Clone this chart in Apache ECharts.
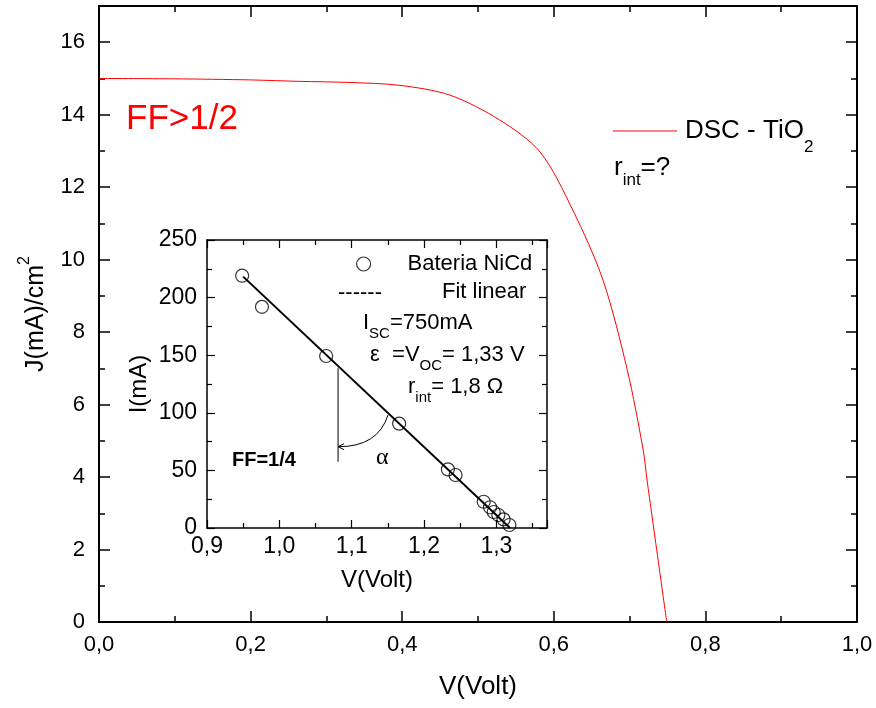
<!DOCTYPE html>
<html>
<head>
<meta charset="utf-8">
<script src="https://cdn.jsdelivr.net/npm/echarts@6/dist/echarts.min.js"></script>
<style>
  html, body { margin: 0; padding: 0; background: #fff; }
  #main { width: 876px; height: 708px; }
</style>
</head>
<body>
<div id="main"></div>
<script>
// DSC - TiO2 curve (main plot)
var dscV = [0, 0.1, 0.2, 0.265, 0.33, 0.397, 0.463, 0.529, 0.582, 0.625, 0.665, 0.697, 0.718, 0.723, 0.749];
var dscJ = [15.0, 14.99, 14.96, 14.92, 14.89, 14.81, 14.54, 13.85, 12.97, 11.37, 9.43, 6.95, 4.74, 3.92, 0];

// NiCd battery (inset)
var batV = [0.9486, 0.976, 1.0647, 1.1656, 1.233, 1.2436, 1.2825, 1.2913, 1.2963, 1.3028, 1.310, 1.318];
var batI = [219, 192, 149.3, 90.6, 50.9, 46, 22.8, 18, 13.9, 11.3, 7.5, 2.6];

// linear fit
var fitV = [0.950, 1.319];
var fitI = [218.2, 0];

// angle construction (vertical line + arc ends)
var vertV = [1.0812, 1.0812];
var vertI = [138.6, 57.6];
var arcV = [1.0812, 1.1359, 1.1502];
var arcI = [70.6, 70.3, 98];

var FONT = 'Liberation Sans, Arial, sans-serif';

function comma(d) {
  return function (v) { return v.toFixed(d).replace('.', ','); };
}
function zip(a, b) {
  return a.map(function (x, i) { return [x, b[i]]; });
}

function xAx(grid, min, max, step, pos, labels, tl, ml, lw) {
  return {
    type: 'value', gridIndex: grid, position: pos, min: min, max: max, interval: step,
    axisLine: { onZero: false, lineStyle: { color: '#000', width: lw } },
    axisTick: { inside: true, length: tl, lineStyle: { color: '#000', width: lw > 1.5 ? 1.5 : 1.2 } },
    minorTick: { show: true, splitNumber: 2, length: ml, lineStyle: { color: '#000', width: lw > 1.5 ? 1.5 : 1.2 } },
    splitLine: { show: false },
    axisLabel: labels ? labels : { show: false }
  };
}

var chart = echarts.init(document.getElementById('main'));

var mainAxes = {
  x0: xAx(0, 0, 1, 0.2, 'bottom', {
    formatter: comma(1), color: '#000', fontSize: 22, fontFamily: FONT, margin: 12, showMaxLabel: true
  }, 11, 6, 2),
  x1: xAx(0, 0, 1, 0.2, 'top', null, 11, 6, 2),
  y0: xAx(0, 0, 17, 2, 'left', {
    color: '#000', fontSize: 22, fontFamily: FONT, margin: 14, showMaxLabel: false
  }, 11, 6, 2),
  y1: xAx(0, 0, 17, 2, 'right', null, 11, 6, 2),
  x2: xAx(1, 0.9, 1.37, 0.1, 'bottom', {
    formatter: comma(1), color: '#000', fontSize: 23, fontFamily: FONT, margin: 7, showMaxLabel: false
  }, 8, 5, 1.5),
  x3: xAx(1, 0.9, 1.37, 0.1, 'top', null, 8, 5, 1.5),
  y2: xAx(1, 0, 250, 50, 'left', {
    color: '#000', fontSize: 23, fontFamily: FONT, margin: 10
  }, 8, 5, 1.5),
  y3: xAx(1, 0, 250, 50, 'right', null, 8, 5, 1.5)
};

mainAxes.x0.name = 'V(Volt)';
mainAxes.x0.nameLocation = 'middle';
mainAxes.x0.nameGap = 52;
mainAxes.x0.nameTextStyle = { color: '#000', fontSize: 26, fontFamily: FONT };

mainAxes.y0.name = '{a|J(mA)/cm}{s|2}';
mainAxes.y0.nameLocation = 'middle';
mainAxes.y0.nameGap = 50;
mainAxes.y0.nameTextStyle = {
  color: '#000', fontFamily: FONT,
  rich: {
    a: { fontSize: 25, padding: [7, 0, 0, 0], verticalAlign: 'bottom', color: '#000', fontFamily: FONT },
    s: { fontSize: 16, verticalAlign: 'top', color: '#000', fontFamily: FONT }
  }
};

mainAxes.x2.name = 'V(Volt)';
mainAxes.x2.nameLocation = 'middle';
mainAxes.x2.nameGap = 40;
mainAxes.x2.nameTextStyle = { color: '#000', fontSize: 24, fontFamily: FONT };

mainAxes.y2.name = 'I(mA)';
mainAxes.y2.nameLocation = 'middle';
mainAxes.y2.nameGap = 56;
mainAxes.y2.nameTextStyle = { color: '#000', fontSize: 24, fontFamily: FONT };

var option = {
  backgroundColor: '#fff',
  animation: false,
  grid: [
    { left: 99, right: 19, top: 6, bottom: 86 },
    { left: 207, right: 329, top: 240, bottom: 180, show: true, backgroundColor: '#fff', borderWidth: 0 }
  ],
  xAxis: [mainAxes.x0, mainAxes.x1, mainAxes.x2, mainAxes.x3],
  yAxis: [mainAxes.y0, mainAxes.y1, mainAxes.y2, mainAxes.y3],
  legend: [
    {
      data: ['DSC - TiO2'], left: 613, top: 118, padding: 0,
      icon: 'rect', itemWidth: 64, itemHeight: 1.2, itemGap: 0,
      formatter: function () { return '{a|DSC - TiO}{s|2}'; },
      textStyle: {
        color: '#000', fontFamily: FONT, padding: [0, 0, 0, 3],
        rich: {
          a: { fontSize: 26, padding: [11.5, 0, 0, 0], verticalAlign: 'top', color: '#000', fontFamily: FONT },
          s: { fontSize: 17, padding: [32, 0, 0, 0], verticalAlign: 'bottom', color: '#000', fontFamily: FONT }
        }
      }
    },
    {
      data: ['Bateria NiCd'], left: 356, top: 253, padding: 0, itemWidth: 14, itemHeight: 14,
      icon: 'circle',
      itemStyle: { color: '#fff', borderColor: '#000', borderWidth: 1.2 },
      textStyle: { color: '#000', fontSize: 22, fontFamily: FONT, padding: [0, 0, 0, 32] }
    }
  ],
  series: [
    {
      name: 'DSC - TiO2', type: 'line', xAxisIndex: 0, yAxisIndex: 0,
      data: zip(dscV, dscJ), smooth: 0.3, symbol: 'none',
      lineStyle: { color: '#ff0000', width: 1 }, itemStyle: { color: '#ff0000' }
    },
    {
      name: 'Fit linear', type: 'line', xAxisIndex: 2, yAxisIndex: 2,
      data: zip(fitV, fitI), symbol: 'none', z: 3,
      lineStyle: { color: '#000', width: 2 }
    },
    {
      name: 'alpha', type: 'line', xAxisIndex: 2, yAxisIndex: 2,
      data: zip(vertV, vertI), symbol: 'none', z: 3,
      lineStyle: { color: '#555', width: 1.5 }
    },
    {
      name: 'Bateria NiCd', type: 'scatter', xAxisIndex: 2, yAxisIndex: 2,
      data: zip(batV, batI), symbol: 'circle', symbolSize: 13, z: 4,
      itemStyle: { color: 'rgba(255,255,255,0)', borderColor: '#000', borderWidth: 1.2 }
    }
  ]
};

chart.setOption(option);

// text annotations and angle arc
var ia = { fontSize: 22, verticalAlign: 'top', fontFamily: FONT, fill: '#000' };
var is = { fontSize: 15, padding: [14.5, 0, 0, 0], verticalAlign: 'bottom', fontFamily: FONT, fill: '#000' };
var ma = { fontSize: 26, verticalAlign: 'top', fontFamily: FONT, fill: '#000' };
var ms = { fontSize: 17, padding: [16.5, 0, 0, 0], verticalAlign: 'bottom', fontFamily: FONT, fill: '#000' };

function px(v, i) { return chart.convertToPixel({ gridIndex: 1 }, [v, i]); }
var a0 = px(arcV[0], arcI[0]), a1 = px(arcV[1], arcI[1]), a2 = px(arcV[2], arcI[2]);

chart.setOption({
  graphic: [
    { type: 'text', left: 126, top: 102, style: { text: 'FF>1/2', fill: '#ff0000', fontSize: 35, fontFamily: FONT } },
    { type: 'text', x: 614, y: 155, style: { text: '{a|r}{s|int}{a|=?}', rich: { a: ma, s: ms } } },
    { type: 'text', x: 338, y: 282, style: { text: '------', fill: '#000', fontSize: 22, fontFamily: FONT } },
    { type: 'text', x: 442, y: 281, style: { text: 'Fit linear', fill: '#000', fontSize: 22, fontFamily: FONT } },
    { type: 'text', x: 363, y: 312, style: { text: '{a|I}{s|SC}{a|=750mA}', rich: { a: ia, s: is } } },
    { type: 'text', x: 370, y: 344, style: { text: '{a|\u03b5  =V}{s|OC}{a|= 1,33 V}', rich: { a: ia, s: is } } },
    { type: 'text', x: 408, y: 376, style: { text: '{a|r}{s|int}{a|= 1,8 \u03a9}', rich: { a: ia, s: is } } },
    { type: 'text', x: 232, y: 450, style: { text: 'FF=1/4', fill: '#000', fontSize: 20, fontWeight: 'bold', fontFamily: FONT } },
    { type: 'text', x: 376, y: 446, style: { text: '\u03b1', fill: '#000', fontSize: 24, fontFamily: 'Liberation Serif, serif' } },
    {
      type: 'bezierCurve',
      shape: { x1: a0[0], y1: a0[1], cpx1: a1[0], cpy1: a1[1], x2: a2[0], y2: a2[1] },
      style: { stroke: '#000', lineWidth: 1, fill: null }, z: 5
    },
    {
      type: 'polyline',
      shape: { points: [[a0[0] + 6, a0[1] - 3], [a0[0], a0[1]], [a0[0] + 6, a0[1] + 3]] },
      style: { stroke: '#000', lineWidth: 1, fill: null }, z: 5
    }
  ]
});
</script>
</body>
</html>
